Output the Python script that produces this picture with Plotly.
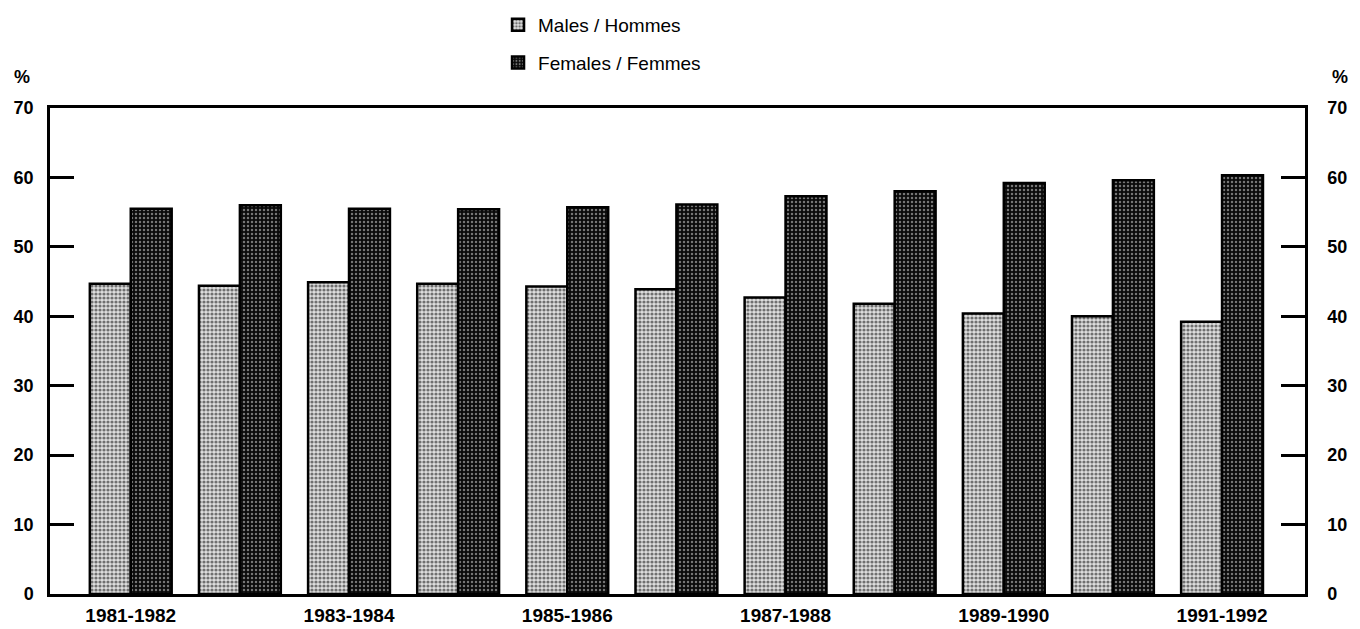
import plotly.graph_objects as go

categories = ["1981-1982", "1982-1983", "1983-1984", "1984-1985", "1985-1986", "1986-1987",
              "1987-1988", "1988-1989", "1989-1990", "1990-1991", "1991-1992"]
males = [44.7, 44.4, 44.9, 44.7, 44.3, 43.9, 42.7, 41.8, 40.4, 40.0, 39.2]
females = [55.5, 56.0, 55.5, 55.4, 55.7, 56.1, 57.3, 58.0, 59.2, 59.6, 60.3]
tick_labels = ["1981-1982", "1983-1984", "1985-1986", "1987-1988", "1989-1990", "1991-1992"]
y_ticks = [0, 10, 20, 30, 40, 50, 60, 70]

x = list(range(len(categories)))
tickvals = [categories.index(t) for t in tick_labels]

FONT = "Liberation Sans"
YFONT = dict(family=FONT, size=18, color="black", weight="bold")
XFONT = dict(family=FONT, size=19, color="black", weight="bold")

fig = go.Figure()
fig.add_trace(go.Bar(
    x=x, y=males, name="Males / Hommes", legendgroup="m",
    marker=dict(color="#a0a0a0", line=dict(color="black", width=2.5),
                pattern=dict(shape=".", fgcolor="#000000", bgcolor="#dedede", size=4, solidity=0.5)),
))
fig.add_trace(go.Bar(
    x=x, y=females, name="Females / Femmes", legendgroup="f",
    marker=dict(color="#303030", line=dict(color="black", width=2.5),
                pattern=dict(shape=".", fgcolor="#e0e0e0", bgcolor="#0a0a0a", size=4, solidity=0.3)),
))
# invisible trace to host right axis
fig.add_trace(go.Scatter(x=[x[0]], y=[0], yaxis="y2", mode="markers",
                         marker=dict(opacity=0), showlegend=False, hoverinfo="skip"))

fig.update_layout(
    width=1360, height=629,
    paper_bgcolor="white", plot_bgcolor="white",
    margin=dict(l=42, r=63, t=100, b=43, autoexpand=False),
    barmode="group", bargap=0.25, bargroupgap=0,
    font=dict(family=FONT, color="black", size=16),
    showlegend=True,
    legend=dict(x=0.357, y=1.21, xanchor="left", yanchor="top",
                orientation="v", tracegroupgap=10, itemwidth=30,
                font=dict(family=FONT, size=19, color="black"),
                bgcolor="rgba(0,0,0,0)"),
    xaxis=dict(range=[-0.74, 10.76], tickvals=tickvals, ticktext=tick_labels,
               showline=True, linecolor="black", linewidth=2.5, mirror=True,
               ticks="", showgrid=False, zeroline=False, automargin=False,
               ticklabelstandoff=2, tickfont=XFONT),
    yaxis=dict(range=[0, 70], tickvals=y_ticks, showline=True, linecolor="black", linewidth=2.5,
               ticks="inside", ticklen=24, tickwidth=2.5, tickcolor="black",
               showgrid=False, zeroline=False, automargin=False, ticklabelstandoff=10,
               tickfont=YFONT),
    yaxis2=dict(range=[0, 70], tickvals=y_ticks, overlaying="y", side="right",
                showline=True, linecolor="black", linewidth=2.5,
                ticks="inside", ticklen=24, tickwidth=2.5, tickcolor="black",
                showgrid=False, zeroline=False, ticklabelstandoff=16, automargin=False,
                tickfont=YFONT),
    annotations=[
        dict(text="%", xref="paper", yref="paper", x=-0.022, y=1.064, showarrow=False,
             xanchor="center", yanchor="middle", font=YFONT),
        dict(text="%", xref="paper", yref="paper", x=1.028, y=1.064, showarrow=False,
             xanchor="center", yanchor="middle", font=YFONT),
    ],
)

fig.write_html("out.html")
